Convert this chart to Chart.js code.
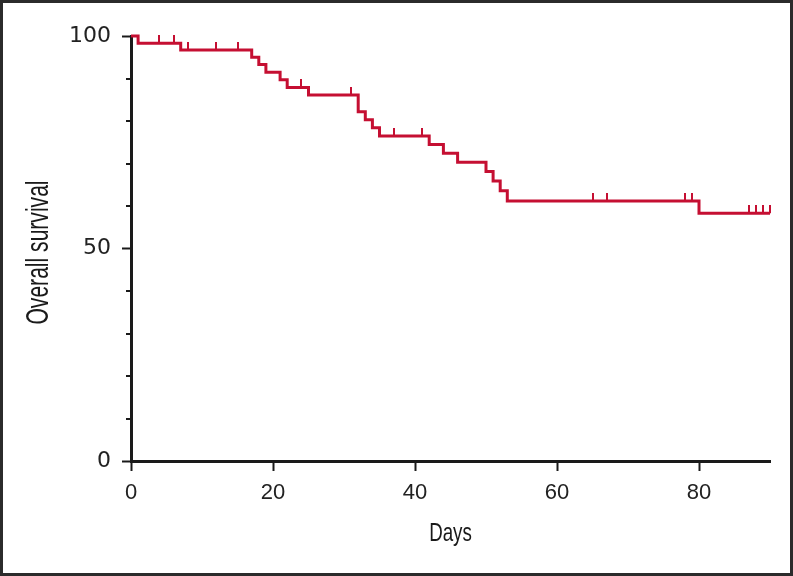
<!DOCTYPE html>
<html>
<head>
<meta charset="utf-8">
<script src="https://cdn.jsdelivr.net/npm/chart.js@4/dist/chart.umd.min.js"></script>
<style>
  html, body { margin: 0; padding: 0; background: #fff; }
  #wrap { width: 793px; height: 576px; position: relative; }
</style>
</head>
<body>
<div id="wrap"><canvas id="kmChart"></canvas></div>
<script>
// Kaplan-Meier steps (day of event, survival % after it)
const eventDays = [0, 1, 7, 17, 18, 19, 21, 22, 25, 32, 33, 34, 35, 42, 44, 46, 50, 51, 52, 53, 80, 90];
const survival = [100, 98.3, 96.7, 95.0, 93.3, 91.5, 89.7, 87.9, 86.1, 82.2, 80.3, 78.4, 76.5, 74.5, 72.4, 70.3, 68.1, 65.9, 63.6, 61.2, 58.3, 58.3];

// censored patients (tick marks)
const censorDays = [4, 6, 8, 12, 15, 24, 31, 37, 41, 65, 67, 78, 79, 87, 88, 89, 90];
const censorSurvival = [98.3, 98.3, 96.7, 96.7, 96.7, 87.9, 86.1, 76.5, 76.5, 61.2, 61.2, 61.2, 61.2, 58.3, 58.3, 58.3, 58.3];

const xTicks = [0, 20, 40, 60, 80];
const yLabels = [0, 50, 100];

const red = "#C50F32";
const ink = "#1a1a1a";

// small upward tick used as point style for censored marks
const tick = document.createElement("canvas");
tick.width = 2;
tick.height = 16;
const tctx = tick.getContext("2d");
tctx.fillStyle = red;
tctx.fillRect(0, 0, 2, 8);

// minor y ticks, axis titles and outer frame
const extras = {
  id: "extras",
  afterDraw(chart) {
    const ctx = chart.ctx;
    const area = chart.chartArea;
    const y = chart.scales.y;
    ctx.save();
    ctx.strokeStyle = ink;
    ctx.lineWidth = 2;
    ctx.beginPath();
    for (let v = 10; v < 100; v += 10) {
      if (yLabels.includes(v)) continue;
      const py = Math.round(y.getPixelForValue(v));
      ctx.moveTo(area.left - 5, py);
      ctx.lineTo(area.left, py);
    }
    ctx.stroke();

    ctx.fillStyle = ink;
    ctx.textAlign = "center";
    ctx.textBaseline = "alphabetic";

    // x title
    ctx.save();
    ctx.font = '25px "Liberation Sans"';
    ctx.translate((area.left + area.right) / 2, 541);
    ctx.scale(0.75, 1);
    ctx.fillText("Days", 0, 0);
    ctx.restore();

    // y title
    ctx.save();
    ctx.font = '31px "Liberation Sans"';
    ctx.translate(48, (area.top + area.bottom) / 2 + 4);
    ctx.rotate(-Math.PI / 2);
    ctx.scale(0.68, 1);
    ctx.fillText("Overall survival", 0, 0);
    ctx.restore();

    // frame
    ctx.strokeStyle = "#2b2b2b";
    ctx.lineWidth = 3;
    ctx.strokeRect(1.5, 1.5, chart.width - 3, chart.height - 3);
    ctx.restore();
  }
};

document.addEventListener("DOMContentLoaded", () => {
  const ctx = document.getElementById("kmChart").getContext("2d");

  new Chart(ctx, {
    type: "line",
    data: {
      datasets: [
        {
          label: "Survival",
          data: eventDays.map((d, i) => ({ x: d, y: survival[i] })),
          borderColor: red,
          borderWidth: 3,
          stepped: "before",
          pointRadius: 0,
          fill: false,
          clip: false,
        },
        {
          label: "Censored",
          type: "scatter",
          data: censorDays.map((d, i) => ({ x: d, y: censorSurvival[i] })),
          pointStyle: tick,
          pointRadius: 4,
          showLine: false,
          clip: false,
        },
      ],
    },
    options: {
      responsive: true,
      maintainAspectRatio: false,
      animation: false,
      layout: { padding: { left: 0, top: 36, right: 23, bottom: 0 } },
      plugins: {
        legend: { display: false },
        tooltip: { enabled: false },
      },
      scales: {
        x: {
          type: "linear",
          min: 0,
          max: 90,
          afterBuildTicks: (axis) => { axis.ticks = xTicks.map((v) => ({ value: v })); },
          afterFit: (axis) => { axis.height = 115; },
          ticks: {
            includeBounds: false,
            padding: 9,
            color: "#222",
            font: { family: "Liberation Sans", size: 22 },
          },
          grid: { drawOnChartArea: false, tickLength: 10, tickWidth: 2, tickColor: ink },
          border: { color: ink, width: 3 },
        },
        y: {
          min: 0,
          max: 100,
          afterBuildTicks: (axis) => { axis.ticks = yLabels.map((v) => ({ value: v })); },
          afterFit: (axis) => { axis.width = 131; },
          ticks: {
            padding: 11,
            color: "#222",
            font: { family: "DejaVu Sans", size: 22 },
          },
          grid: { drawOnChartArea: false, tickLength: 9, tickWidth: 2, tickColor: ink },
          border: { color: ink, width: 3 },
        },
      },
    },
    plugins: [extras],
  });
});
</script>
</body>
</html>
